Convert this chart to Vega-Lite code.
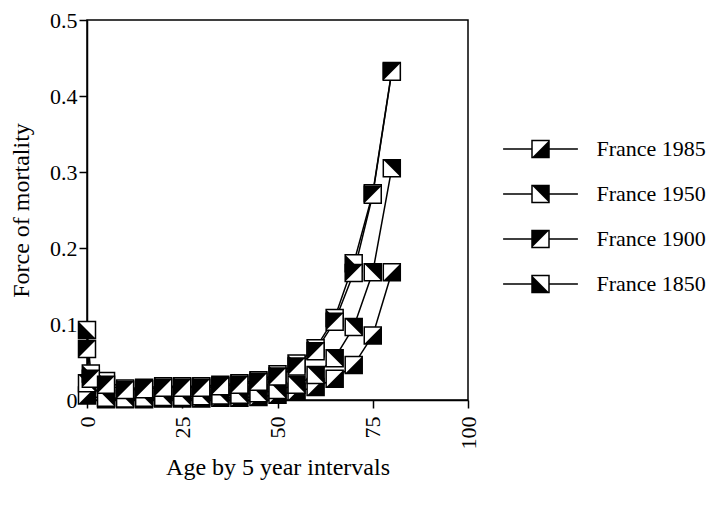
{
  "$schema": "https://vega.github.io/schema/vega-lite/v6.json",
  "width": 381,
  "height": 380,
  "autosize": {"type": "none"},
  "padding": {"left": 87, "top": 20, "right": 245, "bottom": 105},
  "background": "white",
  "config": {
    "font": "Liberation Serif",
    "view": {"stroke": "black", "strokeWidth": 1.5},
    "axis": {
      "grid": false,
      "domainColor": "black",
      "domainWidth": 1.5,
      "tickColor": "black",
      "tickWidth": 1.5,
      "tickSize": 8,
      "labelFont": "Liberation Serif",
      "labelFontSize": 22,
      "labelColor": "black",
      "titleFont": "Liberation Serif",
      "titleFontSize": 24,
      "titleFontWeight": "normal",
      "titleColor": "black"
    },
    "legend": {
      "labelFont": "Liberation Serif",
      "labelFontSize": 22,
      "labelColor": "black"
    }
  },
  "data": {
    "values": [
      {"series": "France 1850", "age": 0, "value": 0.092},
      {"series": "France 1850", "age": 1, "value": 0.035},
      {"series": "France 1850", "age": 5, "value": 0.025},
      {"series": "France 1850", "age": 10, "value": 0.015},
      {"series": "France 1850", "age": 15, "value": 0.016},
      {"series": "France 1850", "age": 20, "value": 0.018},
      {"series": "France 1850", "age": 25, "value": 0.018},
      {"series": "France 1850", "age": 30, "value": 0.018},
      {"series": "France 1850", "age": 35, "value": 0.02},
      {"series": "France 1850", "age": 40, "value": 0.022},
      {"series": "France 1850", "age": 45, "value": 0.026},
      {"series": "France 1850", "age": 50, "value": 0.034},
      {"series": "France 1850", "age": 55, "value": 0.048},
      {"series": "France 1850", "age": 60, "value": 0.068},
      {"series": "France 1850", "age": 65, "value": 0.108},
      {"series": "France 1850", "age": 70, "value": 0.18},
      {"series": "France 1850", "age": 75, "value": 0.272},
      {"series": "France 1850", "age": 80, "value": 0.433},
      {"series": "France 1900", "age": 0, "value": 0.067},
      {"series": "France 1900", "age": 1, "value": 0.028},
      {"series": "France 1900", "age": 5, "value": 0.02},
      {"series": "France 1900", "age": 10, "value": 0.013},
      {"series": "France 1900", "age": 15, "value": 0.014},
      {"series": "France 1900", "age": 20, "value": 0.016},
      {"series": "France 1900", "age": 25, "value": 0.016},
      {"series": "France 1900", "age": 30, "value": 0.016},
      {"series": "France 1900", "age": 35, "value": 0.018},
      {"series": "France 1900", "age": 40, "value": 0.02},
      {"series": "France 1900", "age": 45, "value": 0.024},
      {"series": "France 1900", "age": 50, "value": 0.031},
      {"series": "France 1900", "age": 55, "value": 0.044},
      {"series": "France 1900", "age": 60, "value": 0.064},
      {"series": "France 1900", "age": 65, "value": 0.103},
      {"series": "France 1900", "age": 70, "value": 0.167},
      {"series": "France 1900", "age": 75, "value": 0.27},
      {"series": "France 1900", "age": 80, "value": 0.432},
      {"series": "France 1950", "age": 0, "value": 0.022},
      {"series": "France 1950", "age": 5, "value": 0.003},
      {"series": "France 1950", "age": 10, "value": 0.002},
      {"series": "France 1950", "age": 15, "value": 0.003},
      {"series": "France 1950", "age": 20, "value": 0.004},
      {"series": "France 1950", "age": 25, "value": 0.004},
      {"series": "France 1950", "age": 30, "value": 0.005},
      {"series": "France 1950", "age": 35, "value": 0.006},
      {"series": "France 1950", "age": 40, "value": 0.007},
      {"series": "France 1950", "age": 45, "value": 0.009},
      {"series": "France 1950", "age": 50, "value": 0.013},
      {"series": "France 1950", "age": 55, "value": 0.02},
      {"series": "France 1950", "age": 60, "value": 0.033},
      {"series": "France 1950", "age": 65, "value": 0.055},
      {"series": "France 1950", "age": 70, "value": 0.096},
      {"series": "France 1950", "age": 75, "value": 0.168},
      {"series": "France 1950", "age": 80, "value": 0.305},
      {"series": "France 1985", "age": 0, "value": 0.006},
      {"series": "France 1985", "age": 5, "value": 0.001},
      {"series": "France 1985", "age": 10, "value": 0.001},
      {"series": "France 1985", "age": 15, "value": 0.001},
      {"series": "France 1985", "age": 20, "value": 0.002},
      {"series": "France 1985", "age": 25, "value": 0.002},
      {"series": "France 1985", "age": 30, "value": 0.002},
      {"series": "France 1985", "age": 35, "value": 0.003},
      {"series": "France 1985", "age": 40, "value": 0.003},
      {"series": "France 1985", "age": 45, "value": 0.004},
      {"series": "France 1985", "age": 50, "value": 0.007},
      {"series": "France 1985", "age": 55, "value": 0.011},
      {"series": "France 1985", "age": 60, "value": 0.017},
      {"series": "France 1985", "age": 65, "value": 0.028},
      {"series": "France 1985", "age": 70, "value": 0.046},
      {"series": "France 1985", "age": 75, "value": 0.085},
      {"series": "France 1985", "age": 80, "value": 0.168}
    ]
  },
  "transform": [{"calculate": "datum.series", "as": "series_marker"}],
  "encoding": {
    "x": {
      "field": "age", "type": "quantitative",
      "scale": {"domain": [0, 100], "nice": false, "zero": false},
      "axis": {"values": [0, 25, 50, 75, 100], "labelAngle": 270, "labelPadding": 8, "title": "Age by 5 year intervals", "titlePadding": 6}
    },
    "y": {
      "field": "value", "type": "quantitative",
      "scale": {"domain": [0, 0.5], "nice": false},
      "axis": {"values": [0, 0.1, 0.2, 0.3, 0.4, 0.5], "format": "~g", "labelPadding": 2, "title": "Force of mortality", "titlePadding": 16}
    }
  },
  "layer": [
    {
      "mark": {"type": "line", "strokeWidth": 1.5},
      "encoding": {
        "color": {
          "field": "series", "type": "nominal", "sort": "descending",
          "scale": {"range": ["black", "black", "black", "black"]},
          "legend": {
            "orient": "none", "legendX": 442.5, "legendY": 118, "title": null, "padding": 0,
            "symbolType": "M-4.4,0H-1M1,0H4.4M-1,-1H1V1H-1Z",
            "symbolSize": 289, "symbolStrokeWidth": 1.5, "symbolStrokeColor": "black", "symbolFillColor": "transparent",
            "labelOffset": 45, "rowPadding": 21,
            "encode": {"symbols": {"update": {"fill": {"value": "transparent"}, "stroke": {"value": "black"}, "strokeWidth": {"value": 1.5}, "opacity": {"value": 1}}}}
          }
        }
      }
    },
    {"transform": [{"filter": "datum.series === 'France 1985'"}], "mark": {"type": "point", "shape": "square", "size": 289, "filled": true, "fill": "white", "stroke": "black", "strokeWidth": 1.5, "opacity": 1}},
    {"transform": [{"filter": "datum.series === 'France 1985'"}], "mark": {"type": "point", "size": 289, "filled": true, "fill": "black", "strokeWidth": 0, "opacity": 1},
     "encoding": {"shape": {"field": "series_marker", "type": "nominal", "scale": {"domain": ["France 1985", "France 1950", "France 1900", "France 1850"], "range": ["M1,-1L1,1L-1,1Z", "M-1,-1L1,-1L1,1Z", "M-1,-1L1,-1L-1,1Z", "M-1,-1L1,1L-1,1Z"]},
       "legend": {"orient": "none", "legendX": 442.5, "legendY": 118, "title": null, "padding": 0, "symbolSize": 289, "labelOffset": 45, "rowPadding": 21, "labelOpacity": 0,
         "encode": {"symbols": {"update": {"fill": {"value": "black"}, "stroke": {"value": "transparent"}, "strokeWidth": {"value": 0}, "opacity": {"value": 1}}}}}}}},
    {"transform": [{"filter": "datum.series === 'France 1950'"}], "mark": {"type": "point", "shape": "square", "size": 289, "filled": true, "fill": "white", "stroke": "black", "strokeWidth": 1.5, "opacity": 1}},
    {"transform": [{"filter": "datum.series === 'France 1950'"}], "mark": {"type": "point", "size": 289, "filled": true, "fill": "black", "strokeWidth": 0, "opacity": 1},
     "encoding": {"shape": {"field": "series_marker", "type": "nominal"}}},
    {"transform": [{"filter": "datum.series === 'France 1850'"}], "mark": {"type": "point", "shape": "square", "size": 289, "filled": true, "fill": "white", "stroke": "black", "strokeWidth": 1.5, "opacity": 1}},
    {"transform": [{"filter": "datum.series === 'France 1850'"}], "mark": {"type": "point", "size": 289, "filled": true, "fill": "black", "strokeWidth": 0, "opacity": 1},
     "encoding": {"shape": {"field": "series_marker", "type": "nominal"}}},
    {"transform": [{"filter": "datum.series === 'France 1900'"}], "mark": {"type": "point", "shape": "square", "size": 289, "filled": true, "fill": "white", "stroke": "black", "strokeWidth": 1.5, "opacity": 1}},
    {"transform": [{"filter": "datum.series === 'France 1900'"}], "mark": {"type": "point", "size": 289, "filled": true, "fill": "black", "strokeWidth": 0, "opacity": 1},
     "encoding": {"shape": {"field": "series_marker", "type": "nominal"}}}
  ]
}
